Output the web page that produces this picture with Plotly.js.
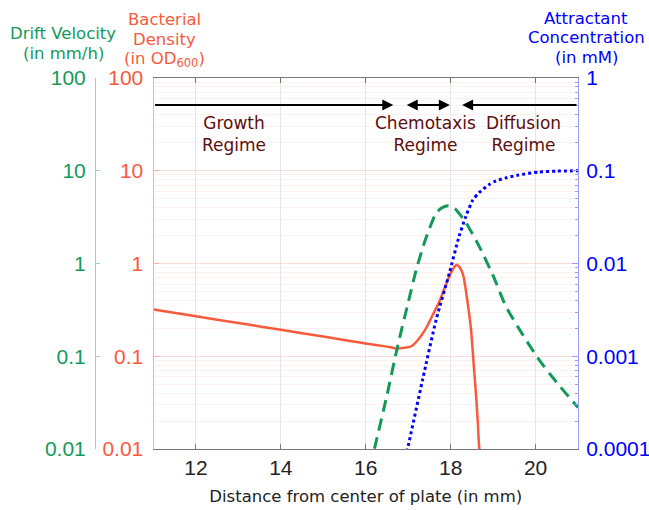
<!DOCTYPE html>
<html>
<head>
<meta charset="utf-8">
<script src="https://cdn.plot.ly/plotly-3.0.1.min.js"></script>
<style>html,body{margin:0;padding:0;background:#fff;}#chart{width:649px;height:510px;}</style>
</head>
<body>
<div id="chart"></div>
<script>
// Bacterial density (OD600) vs distance (mm)
const densityX = [11, 12, 13, 14, 15, 16, 16.5, 16.75, 17.07, 17.22, 17.42, 17.58, 17.73, 17.85, 17.97, 18.09, 18.14, 18.22, 18.30, 18.40, 18.48, 18.54, 18.60, 18.64, 18.67, 18.70];
const densityY = [0.32, 0.27, 0.228, 0.193, 0.163, 0.137, 0.127, 0.121, 0.128, 0.148, 0.2, 0.28, 0.385, 0.53, 0.73, 0.92, 0.97, 0.90, 0.73, 0.377, 0.194, 0.085, 0.037, 0.0193, 0.0107, 0.0085];
// Drift velocity (mm/h)
const driftX = [16.0, 16.21, 16.5, 16.75, 17.0, 17.19, 17.4, 17.66, 17.8, 17.95, 18.1, 18.36, 18.67, 19.0, 19.3, 19.7, 20.08, 20.5, 21.0];
const driftY = [0.004, 0.0103, 0.038, 0.128, 0.38, 0.86, 1.78, 3.52, 4.0, 4.2, 3.9, 2.75, 1.54, 0.74, 0.346, 0.17, 0.092, 0.052, 0.028];
// Attractant concentration (mM)
const attrX = [16.9, 16.99, 17.34, 17.66, 17.97, 18.2, 18.36, 18.52, 18.67, 18.91, 19.07, 19.3, 19.6, 20.08, 20.5, 21.0];
const attrY = [0.00007, 0.000103, 0.000562, 0.00249, 0.0079, 0.0197, 0.0324, 0.048, 0.058, 0.0711, 0.078, 0.0837, 0.09, 0.097, 0.099, 0.1];

const xTicks = [12, 14, 16, 18, 20];
const leftTicks = [0.01, 0.1, 1, 10, 100];
const leftTickText = ['0.01', '0.1', '1', '10', '100'];
const rightTicks = [0.0001, 0.001, 0.01, 0.1, 1];
const rightTickText = ['0.0001', '0.001', '0.01', '0.1', '1'];

const regimeNames = ['Growth<br>Regime', 'Chemotaxis<br>Regime', 'Diffusion<br>Regime'];
const regimeX = [12.9, 17.4, 19.72];
const regimeY = 25;
const arrowY = 51;
// arrow spans [from, to] in mm
const growthArrow = [11, 16.65];
const chemoArrow = [16.93, 17.98];
const diffusionArrow = [21, 18.27];

const greenTitle = ['Drift Velocity', '(in mm/h)'];
const redTitle = ['Bacterial', 'Density', '(in OD<sub>600</sub>)'];
const blueTitle = ['Attractant', 'Concentration', '(in mM)'];

const GREEN = '#129a5a', RED = '#f85a3e', BLUE = '#0000ff';

const traces = [
  {x: densityX, y: densityY, yaxis: 'y', mode: 'lines', line: {color: RED, width: 2.5, shape: 'spline', smoothing: 0.6}, hoverinfo: 'skip'},
  {x: driftX, y: driftY, yaxis: 'y2', mode: 'lines', line: {color: GREEN, width: 3, dash: '12px,7px', shape: 'spline', smoothing: 0.6}, hoverinfo: 'skip'},
  {x: attrX, y: attrY, yaxis: 'y3', mode: 'lines', line: {color: BLUE, width: 3, dash: 'dot', shape: 'spline', smoothing: 0.6}, hoverinfo: 'skip'}
];

const tickFont = {family: 'Liberation Sans, Arial, sans-serif', size: 21};
const titleFamily = 'DejaVu Sans, sans-serif';

// pixel -> paper helpers for layout placement
const L = 60, R = 71, T = 78, B = 61, W = 649, H = 510;
const pw = W - L - R, ph = H - T - B;
const px2x = p => (p - L) / pw;
const py2y = p => (H - B - p) / ph;

const annotations = [];
function titleLines(lines, cx, ys, color) {
  lines.forEach((t, i) => annotations.push({
    xref: 'paper', yref: 'paper', x: px2x(cx), y: py2y(ys[i]), text: t, showarrow: false,
    font: {family: titleFamily, size: 16.5, color: color}, xanchor: 'center', yanchor: 'middle'
  }));
}
titleLines(greenTitle, 63, [33, 53], GREEN);
titleLines(redTitle, 164, [19, 39, 59], RED);
titleLines(blueTitle, 586, [18, 38, 58], BLUE);

const ly = Math.log10(arrowY);
function arrow(span, both) {
  const a = {x: span[1], y: ly, ax: span[0], ay: ly, xref: 'x', yref: 'y', axref: 'x', ayref: 'y', text: '', showarrow: true,
    arrowhead: 2, arrowsize: 1.1, arrowwidth: 2, arrowcolor: '#000'};
  if (both) { a.arrowside = 'end+start'; a.startarrowhead = 2; a.startarrowsize = 1.1; }
  annotations.push(a);
}
arrow(growthArrow, false);
arrow(chemoArrow, true);
arrow(diffusionArrow, false);

regimeNames.forEach((t, i) => annotations.push({
  x: regimeX[i], y: Math.log10(regimeY), xref: 'x', yref: 'y', text: t, showarrow: false,
  font: {family: titleFamily, size: 17, color: '#5e0d0d'}, xanchor: 'center', yanchor: 'middle'
}));

const layout = {
  width: W, height: H,
  margin: {l: L, r: R, t: T, b: B},
  paper_bgcolor: '#fff', plot_bgcolor: '#fff',
  showlegend: false,
  xaxis: {
    domain: [px2x(153.5), 1], range: [11, 21], tickvals: xTicks, ticktext: xTicks.map(String),
    showline: true, linecolor: '#777', linewidth: 1, mirror: 'ticks', ticks: 'inside', ticklen: 5, tickcolor: '#777',
    showgrid: true, gridcolor: '#e6e6e6', zeroline: false, tickfont: {family: 'Liberation Sans, Arial, sans-serif', size: 21, color: '#222'},
    title: {text: 'Distance from center of plate (in mm)', font: {family: titleFamily, size: 16.5, color: '#222'}, standoff: 12}
  },
  yaxis: {
    type: 'log', range: [-2, 2], side: 'left', anchor: 'x',
    tickvals: leftTicks, ticktext: leftTickText, tickfont: Object.assign({}, tickFont, {color: RED}),
    showline: true, linecolor: '#fbb0a2', ticks: 'inside', ticklen: 5, tickcolor: '#fbb0a2', ticklabelstandoff: 5,
    showgrid: true, gridcolor: '#fbdcd6', zeroline: false,
    minor: {dtick: 'D1', showgrid: true, gridcolor: '#fdf0ed', ticks: ''}
  },
  yaxis2: {
    type: 'log', range: [-2, 2], side: 'left', overlaying: 'y', anchor: 'free', position: px2x(95),
    tickvals: leftTicks, ticktext: leftTickText, tickfont: Object.assign({}, tickFont, {color: GREEN}),
    showline: true, linecolor: '#9ad6b6', ticks: 'inside', ticklen: 4, tickcolor: '#9ad6b6', ticklabelstandoff: 5,
    showgrid: false, zeroline: false
  },
  yaxis3: {
    type: 'log', range: [-4, 0], side: 'right', overlaying: 'y', anchor: 'x',
    tickvals: rightTicks, ticktext: rightTickText, tickfont: Object.assign({}, tickFont, {color: BLUE}),
    showline: true, linecolor: '#9a9aff', ticks: 'inside', ticklen: 6, tickcolor: '#9a9aff', ticklabelstandoff: 3,
    showgrid: false, zeroline: false,
    minor: {dtick: 'D1', ticks: 'inside', ticklen: 3, tickcolor: '#9a9aff', showgrid: false}
  },
  annotations: annotations
};

Plotly.newPlot('chart', traces, layout, {staticPlot: true, displayModeBar: false});
</script>
</body>
</html>
